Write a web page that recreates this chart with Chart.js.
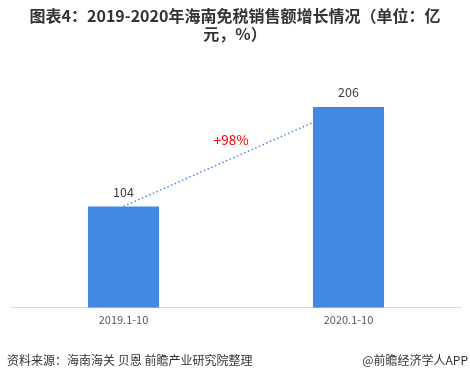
<!DOCTYPE html>
<html><head><meta charset="utf-8">
<script src="https://cdn.jsdelivr.net/npm/chart.js@4/dist/chart.umd.min.js"></script>
<style>html,body{margin:0;padding:0;background:#fff;}#wrap{width:470px;height:381px;position:relative;}</style>
</head><body><div id="wrap"><canvas id="c"></canvas></div>
<script>
const categories = ['2019.1-10', '2020.1-10'];
const salesValues = [104, 206];
const growthLabel = '+98%';
const growthLineEnds = [104, 190];
const titleLines = ['图表4：2019-2020年海南免税销售额增长情况（单位：亿', '元，%）'];
const sourceText = '资料来源：海南海关 贝恩 前瞻产业研究院整理';
const brandText = '@前瞻经济学人APP';
const FONT = '"Microsoft YaHei","Noto Sans CJK SC",Arial,sans-serif';

const overlay = {
  id: 'overlay',
  afterDatasetsDraw(chart) {
    const ctx = chart.ctx;
    const x = chart.scales.x, y = chart.scales.y;
    const meta = chart.getDatasetMeta(0);
    ctx.save();
    const b1 = meta.data[1];
    const x0 = x.getPixelForValue(0), y0 = y.getPixelForValue(growthLineEnds[0]);
    const x1 = b1.x - b1.width / 2, y1 = y.getPixelForValue(growthLineEnds[1]);
    ctx.strokeStyle = '#4a86d8';
    ctx.lineWidth = 1.5;
    ctx.setLineDash([1.5, 2.5]);
    ctx.beginPath(); ctx.moveTo(x0, y0); ctx.lineTo(x1, y1); ctx.stroke();
    ctx.setLineDash([]);
    ctx.fillStyle = '#404040';
    ctx.font = '12.5px ' + FONT;
    ctx.textAlign = 'center'; ctx.textBaseline = 'bottom';
    meta.data.forEach((b, i) => { ctx.fillText(String(salesValues[i]), b.x, b.y - 8); });
    ctx.fillStyle = '#ff0000';
    ctx.font = '13.5px ' + FONT;
    ctx.textBaseline = 'middle';
    ctx.fillText(growthLabel, (x0 + x1) / 2 + 13, y.getPixelForValue(172));
    ctx.restore();
  },
  afterDraw(chart) {
    const ctx = chart.ctx;
    ctx.save();
    ctx.fillStyle = '#333333';
    ctx.font = 'bold 16px ' + FONT;
    ctx.textAlign = 'center'; ctx.textBaseline = 'middle';
    ctx.fillText(titleLines[0], 235, 16);
    ctx.fillText(titleLines[1], 235, 34);
    ctx.font = '12px ' + FONT;
    ctx.textAlign = 'left';
    ctx.fillText(sourceText, 7, 360);
    ctx.textAlign = 'right';
    ctx.fillText(brandText, 468, 360);
    ctx.restore();
  }
};

new Chart(document.getElementById('c'), {
  type: 'bar',
  data: {
    labels: categories,
    datasets: [{
      data: salesValues,
      backgroundColor: '#4287e1',
      barPercentage: 0.316,
      categoryPercentage: 1.0
    }]
  },
  options: {
    responsive: true,
    maintainAspectRatio: false,
    animation: false,
    devicePixelRatio: 1,
    layout: { padding: { top: 64, bottom: 50, left: 11, right: 9 } },
    plugins: { legend: { display: false }, tooltip: { enabled: false }, title: { display: false } },
    scales: {
      x: {
        grid: { display: false, drawTicks: false },
        border: { display: true, color: '#d9d9d9', width: 1 },
        ticks: { color: '#595959', font: { size: 11, family: FONT }, padding: 5 }
      },
      y: { display: false, min: 0, max: 250 }
    }
  },
  plugins: [overlay]
});
</script></body></html>
